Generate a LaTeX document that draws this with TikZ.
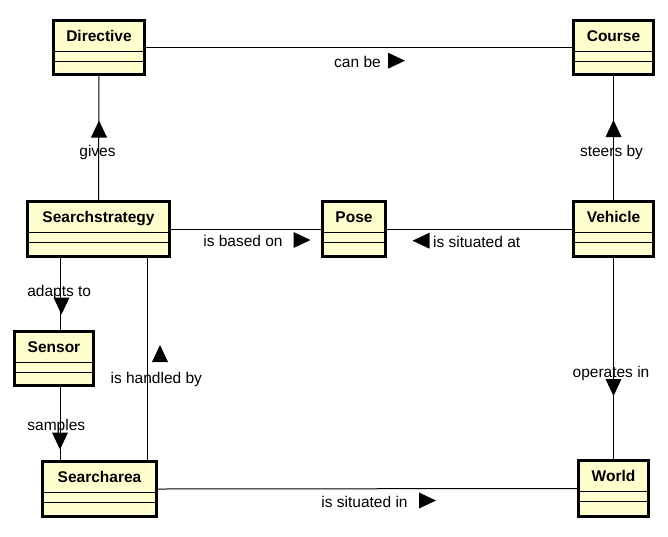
\documentclass[tikz,border=0pt]{standalone}
\usepackage{fontspec}
\setmainfont{Liberation Sans}
\definecolor{clsfill}{HTML}{FEFECE}
\tikzset{
  cls/.style={draw=black, line width=2.6pt, fill=clsfill, inner sep=0pt, outer sep=0pt, rectangle},
  ttl/.style={font=\fontsize{15.5}{18}\selectfont\bfseries, anchor=base, inner sep=0pt},
  lbl/.style={font=\fontsize{15.5}{18}\selectfont, anchor=base, inner sep=0pt},
  conn/.style={draw=black, line width=1pt},
  divline/.style={draw=black, line width=1pt},
  tri/.style={fill=black}
}
\newcommand\umlclass[6]{%
  \node[cls, minimum width={#4-#2-2.6}, minimum height={#5-#3-2.6}] (#1) at ({(#2+#4)/2},{(#3+#5)/2}) {};
  \node[ttl] (#1-t) at ({(#2+#4)/2},{#3+22.7}) {#6};
  \draw[divline] ([yshift=-30.7pt]#1.north west) -- ([yshift=-30.7pt]#1.north east);
  \draw[divline] ([yshift=-41pt]#1.north west) -- ([yshift=-41pt]#1.north east);
}
% triangles: centre x, centre y
\newcommand\triR[2]{\fill[tri] ({#1-8.5},{#2-8}) -- ({#1+8.5},{#2}) -- ({#1-8.5},{#2+8}) -- cycle;}
\newcommand\triL[2]{\fill[tri] ({#1+8.5},{#2-8}) -- ({#1-8.5},{#2}) -- ({#1+8.5},{#2+8}) -- cycle;}
\newcommand\triU[2]{\fill[tri] ({#1-8},{#2+8.5}) -- ({#1},{#2-8.5}) -- ({#1+8},{#2+8.5}) -- cycle;}
\newcommand\triD[2]{\fill[tri] ({#1-8},{#2-8.5}) -- ({#1},{#2+8.5}) -- ({#1+8},{#2-8.5}) -- cycle;}
\begin{document}
\begin{tikzpicture}[x=1pt,y=-1pt]
\useasboundingbox (0,0) rectangle (668,536);
\fill[white] (0,0) rectangle (668,536);

\coordinate (x60) at (60,0);
\coordinate (x147) at (147,0);

% connectors (under the boxes)
\umlclass{Directive}{52}{19}{146}{76}{Directive}
\umlclass{Course}{572}{19}{655}{76}{Course}
\umlclass{Searchstrategy}{26}{200}{171}{258}{Searchstrategy}
\umlclass{Pose}{321}{200}{387}{258}{Pose}
\umlclass{Vehicle}{572}{200}{655}{258}{Vehicle}
\umlclass{Sensor}{13}{330}{95}{387}{Sensor}
\umlclass{Searcharea}{41}{460}{158}{518}{Searcharea}
\umlclass{World}{577}{459}{650}{518}{World}

\draw[conn] (Directive.east) -- (Course.west);
\draw[conn] (Directive.south) -- (Searchstrategy.north);
\draw[conn] (Course.south) -- (Vehicle.north);
\draw[conn] (Searchstrategy.east) -- (Pose.west);
\draw[conn] (Pose.east) -- (Vehicle.west);
\draw[conn] (Searchstrategy.south -| x60) -- (Sensor.north -| x60);
\draw[conn] (Sensor.south -| x60) -- (Searcharea.north -| x60);
\draw[conn] (Searchstrategy.south -| x147) -- (Searcharea.north -| x147);
\draw[conn] (Vehicle.south) -- (World.north);
\draw[conn] (Searcharea.east) -- (World.west);

% labels
\node[lbl] (l-canbe) at (357.5,67.7) {can be};
\node[lbl] (l-gives) at (97.5,156.7) {gives};
\node[lbl] (l-steers) at (611.5,156.7) {steers by};
\node[lbl] (l-based) at (243,246.7) {is based on};
\node[lbl] (l-sitat) at (476.7,247.5) {is situated at};
\node[lbl] (l-adapts) at (59.2,296.7) {adapts to};
\node[lbl] (l-samples) at (56.3,430.7) {samples};
\node[lbl] (l-handled) at (156.3,383.3) {is handled by};
\node[lbl] (l-operates) at (611,377.3) {operates in};
\node[lbl] (l-sitin) at (364.5,507.7) {is situated in};

% direction triangles
\triR{396.5}{60.7}
\triR{302}{240}
\triR{427.5}{500.5}
\triL{421}{240.7}
\triU{99}{129}
\triU{613.5}{128.5}
\triU{160}{353.5}
\triD{61.5}{306}
\triD{60}{441}
\triD{613.5}{387.5}
\end{tikzpicture}
\end{document}
